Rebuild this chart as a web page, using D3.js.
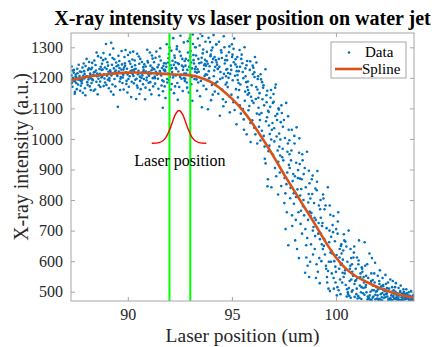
<!DOCTYPE html>
<html>
<head>
<meta charset="utf-8">
<script src="https://cdn.jsdelivr.net/npm/d3@7"></script>
<style>
  body { margin: 0; background: #fff; }
  svg { display: block; }
  text { font-family: "Liberation Serif", "Times New Roman", serif; }
</style>
</head>
<body>
<svg id="chart" width="442" height="347"></svg>
<script>
// --- data ---
const xTicks = [90, 95, 100];
const yTicks = [500, 600, 700, 800, 900, 1000, 1100, 1200, 1300];
const laserLines = [92, 93];

// fitted spline knots
const splineX = [87.27, 88, 89, 90, 91, 92, 93, 93.5, 94, 94.5, 95, 95.5, 96, 96.5, 97, 97.5, 98, 98.5, 99, 99.5, 100, 100.5, 101, 101.5, 102, 102.5, 103, 103.75];
const splineY = [1192, 1203, 1212, 1217, 1216, 1212, 1208, 1200, 1186, 1162, 1132, 1095, 1050, 998, 943, 885, 830, 775, 720, 663, 612, 574, 549, 531, 515, 502, 491, 480];

// beam profile sketch
const beamX = [91.15, 91.5, 91.7, 91.85, 92.0, 92.1, 92.2, 92.3, 92.4, 92.46, 92.52, 92.62, 92.72, 92.82, 92.92, 93.07, 93.22, 93.42, 93.77];
const beamY = [986, 988, 995, 1007, 1029, 1047, 1066, 1082, 1091, 1093, 1091, 1082, 1066, 1047, 1029, 1007, 995, 988, 986];

// measured points [position, intensity]
const points = [
[87.29,1208],[87.52,1183],[87.41,1226],[87.67,1199],[87.34,1171],[87.58,1215],[87.46,1154],[87.72,1192],[87.3,1237],[87.61,1178],[87.49,1204],[87.38,1196],[87.7,1221],[87.55,1163],[87.43,1189],[87.64,1243],[87.32,1185],[87.5,1211],[87.74,1174],[87.37,1200],[87.57,1230],[87.45,1148],[87.68,1206],[87.28,1181],[87.62,1194],[87.4,1217],[87.53,1201],[87.71,1158],[87.35,1224],[87.47,1190],
[87.81,1193],[88.13,1231],[87.94,1166],[88.2,1209],[87.77,1219],[88.05,1186],[87.88,1247],[88.17,1172],[87.99,1204],[88.24,1198],[87.84,1151],[88.09,1226],[87.92,1213],[88.02,1262],[87.79,1182],[88.15,1201],[87.97,1239],[88.22,1160],[87.86,1207],[88.07,1177],[87.9,1222],[88.11,1195],[87.82,1234],[88.19,1214],[87.96,1143],[88.04,1205],[87.76,1189],[88.14,1252],[87.91,1198],[88.23,1228],
[88.37,1218],[88.61,1176],[88.29,1249],[88.52,1205],[88.7,1236],[88.43,1162],[88.66,1213],[88.32,1192],[88.57,1271],[88.47,1224],[88.26,1183],[88.73,1201],[88.39,1257],[88.55,1146],[88.64,1229],[88.34,1210],[88.49,1187],[88.71,1266],[88.41,1219],[88.59,1197],[88.28,1233],[88.68,1170],[88.45,1242],[88.53,1214],[88.36,1158],[88.62,1208],[88.74,1226],[88.3,1195],[88.5,1283],[88.67,1188],
[88.79,1227],[89.12,1191],[88.93,1262],[89.21,1208],[88.84,1173],[89.05,1240],[88.95,1311],[89.17,1219],[88.88,1198],[89.02,1251],[89.2,1315],[88.77,1204],[89.09,1166],[88.98,1229],[89.24,1243],[88.86,1212],[89.14,1276],[88.91,1185],[89.07,1220],[88.81,1258],[89.19,1155],[89.0,1207],[88.9,1234],[89.11,1199],[88.83,1281],[89.23,1213],[88.97,1177],[89.15,1225],[88.76,1246],[89.04,1194],
[89.33,1231],[89.61,1188],[89.27,1265],[89.48,1209],[89.72,1244],[89.4,1172],[89.57,1221],[89.3,1296],[89.66,1203],[89.44,1250],[89.52,1105],[89.69,1227],[89.36,1196],[89.55,1272],[89.28,1214],[89.63,1160],[89.46,1238],[89.74,1183],[89.38,1219],[89.59,1255],[89.31,1145],[89.5,1206],[89.7,1288],[89.42,1224],[89.65,1197],[89.26,1178],[89.54,1241],[89.73,1215],[89.35,1261],[89.6,1232],
[89.78,1209],[90.12,1246],[89.93,1180],[90.21,1225],[89.84,1268],[90.03,1196],[89.89,1291],[90.16,1137],[89.96,1230],[90.24,1213],[89.8,1162],[90.07,1254],[89.91,1218],[90.19,1187],[89.87,1240],[90.01,1275],[89.76,1201],[90.14,1222],[89.98,1152],[90.22,1260],[89.82,1234],[90.09,1205],[89.94,1190],[90.18,1216],[89.86,1248],[90.05,1171],[89.79,1227],[90.11,1283],[89.99,1211],[90.2,1236],
[90.31,1227],[90.59,1190],[90.4,1131],[90.68,1252],[90.27,1206],[90.53,1270],[90.44,1175],[90.72,1219],[90.35,1241],[90.62,1163],[90.49,1212],[90.26,1286],[90.66,1200],[90.38,1230],[90.56,1147],[90.74,1235],[90.42,1197],[90.6,1262],[90.29,1182],[90.51,1223],[90.7,1208],[90.33,1257],[90.47,1168],[90.64,1215],[90.36,1194],[90.55,1246],[90.73,1179],[90.45,1279],[90.3,1220],[90.58,1204],
[90.79,1244],[91.08,1186],[90.88,1221],[91.19,1263],[90.83,1130],[91.02,1207],[90.93,1292],[91.14,1225],[90.77,1196],[91.22,1172],[90.97,1250],[91.11,1214],[90.86,1237],[91.05,1160],[91.24,1229],[90.91,1201],[91.16,1273],[90.81,1218],[91.0,1184],[90.95,1255],[91.2,1199],[90.85,1168],[91.09,1240],[90.99,1211],[91.13,1146],[90.76,1226],[91.06,1283],[90.9,1192],[91.18,1233],[91.03,1219],
[91.29,1204],[91.58,1257],[91.37,1286],[91.66,1192],[91.27,1228],[91.5,1143],[91.71,1239],[91.41,1210],[91.62,1175],[91.33,1266],[91.54,1222],[91.68,1102],[91.45,1197],[91.74,1248],[91.31,1181],[91.56,1297],[91.39,1216],[91.64,1232],[91.47,1164],[91.26,1251],[91.6,1208],[91.43,1235],[91.72,1188],[91.35,1220],[91.52,1270],[91.69,1156],[91.48,1243],[91.3,1199],[91.57,1214],[91.73,1226],
[91.78,1226],[92.09,1289],[91.9,1185],[92.18,1330],[91.83,1247],[92.02,1203],[92.22,1150],[91.95,1264],[92.13,1219],[91.77,1172],[92.06,1241],[91.87,1310],[92.2,1208],[91.98,1193],[92.15,1256],[91.81,1134],[92.04,1228],[92.24,1273],[91.92,1214],[92.11,1180],[91.85,1236],[92.0,1299],[92.17,1201],[91.94,1250],[92.07,1162],[91.79,1222],[92.21,1243],[91.89,1196],[92.12,1232],[91.97,1278],
[92.29,1251],[92.58,1197],[92.36,1303],[92.67,1236],[92.27,1172],[92.49,1286],[92.71,1214],[92.4,1128],[92.62,1262],[92.33,1229],[92.53,1338],[92.74,1190],[92.45,1245],[92.64,1157],[92.31,1208],[92.55,1272],[92.43,1221],[92.69,1316],[92.38,1183],[92.6,1240],[92.26,1266],[92.51,1203],[92.73,1255],[92.47,1170],[92.65,1226],[92.35,1294],[92.57,1211],[92.41,1248],[92.7,1199],[92.3,1233],
[92.79,1262],[93.07,1203],[92.88,1320],[93.18,1247],[92.83,1185],[93.02,1288],[93.22,1229],[92.93,1152],[93.12,1342],[92.77,1240],[92.98,1213],[93.15,1275],[92.86,1226],[93.05,1179],[93.24,1300],[92.91,1257],[93.1,1125],[92.8,1214],[93.0,1270],[93.2,1196],[92.95,1236],[93.13,1311],[92.85,1168],[93.04,1250],[93.23,1220],[92.89,1283],[93.08,1231],[92.76,1197],[93.16,1258],[92.97,1329],
[93.28,1273],[93.56,1104],[93.37,1329],[93.67,1241],[93.3,1195],[93.49,1345],[93.71,1259],[93.41,1220],[93.62,1293],[93.33,1158],[93.53,1250],[93.74,1212],[93.45,1306],[93.64,1174],[93.27,1236],[93.58,1337],[93.39,1262],[93.69,1206],[93.47,1140],[93.6,1280],[93.35,1228],[93.51,1190],[93.73,1318],[93.43,1248],[93.66,1229],[93.26,1300],[93.55,1266],[93.38,1185],[93.7,1245],[93.32,1217],
[93.79,1254],[94.08,1145],[93.88,1331],[94.17,1268],[93.81,1210],[94.02,1290],[94.22,1183],[93.93,1238],[94.12,1340],[93.77,1163],[93.98,1276],[94.15,1224],[93.85,1097],[94.05,1251],[94.24,1309],[93.91,1199],[94.1,1262],[93.8,1285],[94.0,1127],[94.2,1236],[93.95,1317],[94.13,1205],[93.84,1246],[94.04,1177],[94.23,1258],[93.89,1222],[94.07,1299],[93.76,1240],[94.18,1155],[93.97,1271],
[94.29,1243],[94.57,1130],[94.38,1318],[94.68,1258],[94.3,1187],[94.5,1283],[94.72,1205],[94.42,1076],[94.61,1336],[94.33,1229],[94.53,1162],[94.74,1272],[94.45,1219],[94.64,1300],[94.27,1250],[94.59,1107],[94.4,1236],[94.7,1178],[94.48,1290],[94.62,1213],[94.35,1148],[94.52,1265],[94.73,1227],[94.44,1196],[94.66,1247],[94.26,1310],[94.55,1200],[94.37,1262],[94.71,1121],[94.32,1230],
[94.78,1229],[95.07,1120],[94.88,1303],[95.17,1244],[94.8,1170],[95.01,1268],[95.22,1048],[94.92,1213],[95.11,1329],[94.77,1258],[94.98,1145],[95.15,1207],[94.86,1284],[95.04,1192],[95.24,1236],[94.9,1087],[95.09,1251],[94.82,1216],[95.0,1310],[95.2,1163],[94.95,1240],[95.13,1095],[94.84,1200],[95.03,1276],[95.23,1222],[94.89,1138],[95.08,1295],[94.76,1185],[95.18,1261],[94.97,1226],
[95.28,1193],[95.57,1064],[95.37,1291],[95.66,1205],[95.29,1136],[95.5,1248],[95.71,1015],[95.41,1178],[95.61,1300],[95.33,1222],[95.53,1098],[95.74,1170],[95.45,1262],[95.64,1155],[95.27,1209],[95.58,1030],[95.39,1236],[95.69,1186],[95.47,1276],[95.62,1125],[95.35,1160],[95.52,1219],[95.73,1255],[95.43,1083],[95.65,1231],[95.26,1268],[95.55,1199],[95.38,1110],[95.7,1241],[95.32,1183],
[95.78,1160],[96.07,1037],[95.88,1254],[96.17,1170],[95.8,1094],[96.01,1212],[96.22,985],[95.92,1138],[96.11,1268],[95.77,1188],[95.98,1061],[96.15,1131],[95.86,1226],[96.04,1118],[96.24,1196],[95.9,990],[96.09,1203],[95.82,1150],[96.0,1240],[96.2,1083],[95.95,1176],[96.13,1015],[95.84,1108],[96.03,1233],[96.23,1162],[95.89,1052],[96.08,1218],[95.76,1145],[96.18,1250],[95.97,1125],
[96.28,1102],[96.57,975],[96.38,1212],[96.67,1120],[96.3,1040],[96.5,1168],[96.71,845],[96.42,1085],[96.61,1228],[96.27,1135],[96.53,1010],[96.74,1092],[96.45,1186],[96.64,1058],[96.33,1150],[96.58,935],[96.4,1195],[96.69,1071],[96.47,1130],[96.62,920],[96.35,1062],[96.52,1176],[96.73,868],[96.44,1027],[96.66,1143],[96.26,1205],[96.55,1110],[96.37,995],[96.7,1158],[96.32,1080],
[96.78,1044],[97.07,905],[96.88,1160],[97.17,1062],[96.8,978],[97.01,1122],[97.22,818],[96.92,1030],[97.11,1178],[96.77,1088],[96.98,948],[97.15,1008],[96.86,1135],[97.04,992],[97.24,1100],[96.9,842],[97.09,1075],[96.82,1016],[97.0,1147],[97.2,962],[96.95,1052],[97.13,878],[96.84,1105],[97.03,1035],[97.23,925],[96.89,998],[97.08,1168],[96.76,960],[97.18,1082],[96.97,1118],
[97.28,975],[97.57,822],[97.38,1110],[97.67,958],[97.3,890],[97.5,1062],[97.71,652],[97.42,940],[97.61,1118],[97.27,1018],[97.53,872],[97.74,915],[97.45,1040],[97.64,760],[97.33,998],[97.58,705],[97.4,1085],[97.69,985],[97.47,930],[97.62,852],[97.35,1055],[97.52,790],[97.73,1030],[97.44,968],[97.66,890],[97.26,1096],[97.55,1003],[97.37,846],[97.7,1074],[97.32,946],
[97.78,905],[98.07,735],[97.88,1030],[98.17,872],[97.8,806],[98.01,985],[98.22,610],[97.92,862],[98.11,1038],[97.77,950],[97.98,788],[98.15,835],[97.86,962],[98.04,668],[98.24,1002],[97.9,715],[98.09,922],[97.82,840],[98.0,1010],[98.2,760],[97.95,885],[98.13,640],[97.84,930],[98.03,878],[98.23,955],[97.89,750],[98.08,810],[97.76,996],[98.18,898],[97.97,822],
[98.28,815],[98.57,652],[98.38,950],[98.67,792],[98.3,722],[98.5,905],[98.71,548],[98.42,780],[98.61,958],[98.27,870],[98.53,705],[98.74,762],[98.45,885],[98.64,585],[98.33,836],[98.58,612],[98.4,930],[98.69,820],[98.47,750],[98.62,676],[98.35,868],[98.52,562],[98.73,855],[98.44,800],[98.66,735],[98.26,918],[98.55,842],[98.37,690],[98.7,896],[98.32,765],
[98.78,748],[99.07,590],[98.88,880],[99.17,725],[98.8,655],[99.01,838],[99.22,528],[98.92,712],[99.11,895],[98.77,805],[98.98,640],[99.15,690],[98.86,820],[99.04,545],[99.24,770],[98.9,622],[99.09,860],[98.82,758],[99.0,682],[99.2,610],[98.95,790],[99.13,565],[98.84,868],[99.03,735],[99.23,672],[98.89,700],[99.08,832],[98.76,598],[99.18,782],[98.97,742],
[99.28,690],[99.57,548],[99.38,818],[99.67,662],[99.3,600],[99.5,782],[99.71,502],[99.42,650],[99.61,842],[99.27,742],[99.53,575],[99.74,628],[99.45,770],[99.64,510],[99.33,715],[99.58,530],[99.4,805],[99.69,700],[99.47,622],[99.62,568],[99.35,725],[99.52,585],[99.73,752],[99.44,672],[99.66,598],[99.26,800],[99.55,708],[99.37,640],[99.7,782],[99.32,655],
[99.78,635],[100.07,515],[99.88,748],[100.17,612],[99.8,560],[100.01,705],[100.22,492],[99.92,600],[100.11,760],[99.77,680],[99.98,530],[100.15,575],[99.86,695],[100.04,488],[100.24,650],[99.9,510],[100.09,730],[99.82,625],[100.0,565],[100.2,540],[99.95,665],[100.13,505],[99.84,718],[100.03,620],[100.23,588],[99.89,545],[100.08,690],[99.76,598],[100.18,640],[99.97,582],
[100.28,592],[100.57,498],[100.38,688],[100.67,575],[100.3,530],[100.5,648],[100.71,480],[100.42,560],[100.61,700],[100.27,625],[100.53,508],[100.74,540],[100.45,664],[100.64,486],[100.33,605],[100.58,492],[100.4,668],[100.69,585],[100.47,522],[100.62,512],[100.35,635],[100.52,484],[100.73,610],[100.44,570],[100.66,535],[100.26,655],[100.55,598],[100.37,548],[100.7,640],[100.32,562],
[100.78,565],[101.07,486],[100.88,648],[101.17,548],[100.8,505],[101.01,612],[101.22,476],[100.92,535],[101.11,668],[100.77,590],[100.98,492],[101.15,520],[100.86,628],[101.04,478],[101.24,580],[100.9,483],[101.09,602],[100.82,552],[101.0,510],[101.2,498],[100.95,575],[101.13,480],[100.84,612],[101.03,545],[101.23,515],[100.89,525],[101.08,590],[100.76,500],[101.18,560],[100.97,538],
[101.28,540],[101.57,480],[101.38,662],[101.67,528],[101.3,495],[101.5,590],[101.71,473],[101.42,515],[101.61,625],[101.27,565],[101.53,484],[101.74,505],[101.45,552],[101.64,474],[101.33,548],[101.58,478],[101.4,585],[101.69,535],[101.47,498],[101.62,488],[101.35,530],[101.52,475],[101.73,610],[101.44,522],[101.66,500],[101.26,575],[101.55,545],[101.37,490],[101.7,560],[101.32,512],
[101.78,520],[102.07,476],[101.88,595],[102.17,510],[101.8,484],[102.01,552],[102.22,472],[101.92,500],[102.11,570],[101.77,538],[101.98,478],[102.15,492],[101.86,530],[102.04,473],[102.24,545],[101.9,475],[102.09,525],[101.82,505],[102.0,488],[102.2,482],[101.95,515],[102.13,474],[101.84,560],[102.03,508],[102.23,496],[101.89,490],[102.08,535],[101.76,480],[102.18,518],[101.97,502],
[102.28,505],[102.57,474],[102.38,555],[102.67,498],[102.3,480],[102.5,530],[102.71,472],[102.42,492],[102.61,540],[102.27,518],[102.53,476],[102.74,486],[102.45,512],[102.64,473],[102.33,508],[102.58,477],[102.4,525],[102.69,500],[102.47,484],[102.62,479],[102.35,502],[102.52,473],[102.73,535],[102.44,495],[102.66,488],[102.26,522],[102.55,510],[102.37,482],[102.7,515],[102.32,490],
[102.78,496],[103.07,473],[102.88,528],[103.17,490],[102.8,477],[103.01,512],[103.22,472],[102.92,486],[103.11,520],[102.77,505],[102.98,474],[103.15,482],[102.86,500],[103.04,472],[103.24,508],[102.9,475],[103.09,502],[102.82,492],[103.0,480],[103.2,476],[102.95,495],[103.13,473],[102.84,515],[103.03,488],[103.23,484],[102.89,479],[103.08,498],[102.76,483],[103.18,494],[102.97,490],
[103.28,488],[103.57,473],[103.38,508],[103.67,484],[103.3,475],[103.5,498],[103.71,472],[103.42,480],[103.61,502],[103.27,494],[103.53,473],[103.74,478],[103.45,490],[103.64,472],[103.33,492],[103.58,474],[103.4,496],[103.69,486],[103.47,477],[103.62,476],[103.35,485],[103.52,472],[103.73,490],[103.44,482],[103.66,479],[103.26,500],[103.55,487],[103.37,476],[103.7,483],[103.32,481]
];

// --- layout ---
const width = 442, height = 347;
const margin = {top: 33, right: 28, bottom: 46, left: 71};
const innerW = width - margin.left - margin.right;
const innerH = height - margin.top - margin.bottom;

const serif = "'Liberation Serif', 'Times New Roman', serif";
const dotColor = "#0072BD";
const splineColor = "#D95319";
const axisColor = "#a6a6a6";
const textColor = "#262626";

const svg = d3.select("#chart");

const x = d3.scaleLinear().domain([87.27, 103.75]).range([0, innerW]);
const y = d3.scaleLinear().domain([469.6, 1346.8]).range([innerH, 0]);

const g = svg.append("g").attr("transform", "translate(" + margin.left + "," + margin.top + ")");

svg.append("defs").append("clipPath").attr("id", "plotClip")
    .append("rect").attr("width", innerW).attr("height", innerH);

// axes, ticks pointing inward like matlab
const xAxis = g.append("g").attr("transform", "translate(0," + innerH + ")")
    .call(d3.axisBottom(x).tickValues(xTicks).tickSizeInner(-4).tickSizeOuter(0).tickPadding(8).tickFormat(d3.format("d")));
const xTop = g.append("g")
    .call(d3.axisTop(x).tickValues(xTicks).tickSizeInner(-4).tickSizeOuter(0).tickFormat(""));
const yAxis = g.append("g")
    .call(d3.axisLeft(y).tickValues(yTicks).tickSizeInner(-4).tickSizeOuter(0).tickPadding(8).tickFormat(d3.format("d")));
const yRight = g.append("g").attr("transform", "translate(" + innerW + ",0)")
    .call(d3.axisRight(y).tickValues(yTicks).tickSizeInner(-4).tickSizeOuter(0).tickFormat(""));

[xAxis, xTop, yAxis, yRight].forEach(a => {
    a.attr("font-family", serif).attr("font-size", 16);
    a.select(".domain").remove();
    a.selectAll(".tick line").attr("stroke", axisColor);
    a.selectAll(".tick text").attr("fill", textColor);
});

const plot = g.append("g").attr("clip-path", "url(#plotClip)");

// scatter
plot.selectAll("circle.pt")
    .data(points)
    .enter().append("circle")
    .attr("class", "pt")
    .attr("cx", d => x(d[0]))
    .attr("cy", d => y(d[1]))
    .attr("r", 1.3)
    .attr("fill", dotColor);

// laser position markers
plot.selectAll("line.laser")
    .data(laserLines)
    .enter().append("line")
    .attr("class", "laser")
    .attr("x1", d => x(d)).attr("x2", d => x(d))
    .attr("y1", 0).attr("y2", innerH)
    .attr("stroke", "#00ff00")
    .attr("stroke-width", 2);

// beam profile
const beam = beamX.map((v, i) => [v, beamY[i]]);
plot.append("path")
    .datum(beam)
    .attr("fill", "none")
    .attr("stroke", "#ff0000")
    .attr("stroke-width", 1.4)
    .attr("d", d3.line().x(d => x(d[0])).y(d => y(d[1])).curve(d3.curveCatmullRom));

// spline fit
const spline = splineX.map((v, i) => [v, splineY[i]]);
plot.append("path")
    .datum(spline)
    .attr("fill", "none")
    .attr("stroke", splineColor)
    .attr("stroke-width", 2.6)
    .attr("d", d3.line().x(d => x(d[0])).y(d => y(d[1])).curve(d3.curveNatural));

// box
g.append("rect")
    .attr("width", innerW).attr("height", innerH)
    .attr("fill", "none")
    .attr("stroke", axisColor)
    .attr("stroke-width", 1);

// annotation
g.append("text")
    .attr("x", x(92.5))
    .attr("y", y(1046))
    .attr("dy", "2.6em")
    .attr("text-anchor", "middle")
    .attr("font-family", serif)
    .attr("font-size", 16)
    .attr("fill", "#000")
    .text("Laser position");

// legend
const legend = g.append("g").attr("transform", "translate(" + (innerW - 83) + ",9)")
    .attr("font-family", serif).attr("font-size", 15);
legend.append("rect")
    .attr("width", 75).attr("height", 36)
    .attr("fill", "#fff")
    .attr("stroke", axisColor);
legend.append("circle").attr("cx", 18).attr("cy", 10.5).attr("r", 1.3).attr("fill", dotColor);
legend.append("line").attr("x1", 4).attr("x2", 31).attr("y1", 27).attr("y2", 27)
    .attr("stroke", splineColor).attr("stroke-width", 2.6);
legend.append("text").attr("x", 34).attr("y", 15).attr("fill", "#000").text("Data");
legend.append("text").attr("x", 31).attr("y", 31.5).attr("fill", "#000").text("Spline");

// titles
svg.append("text")
    .attr("x", margin.left + innerW / 2)
    .attr("y", 25)
    .attr("text-anchor", "middle")
    .attr("font-family", serif)
    .attr("font-size", 20)
    .attr("font-weight", "bold")
    .attr("fill", "#000")
    .text("X-ray intensity vs laser position on water jet");

svg.append("text")
    .attr("x", margin.left + innerW / 2)
    .attr("y", 342)
    .attr("text-anchor", "middle")
    .attr("font-family", serif)
    .attr("font-size", 19.5)
    .attr("fill", textColor)
    .text("Laser position (um)");

svg.append("text")
    .attr("transform", "translate(28," + (margin.top + innerH / 2 - 10) + ") rotate(-90)")
    .attr("text-anchor", "middle")
    .attr("font-family", serif)
    .attr("font-size", 20)
    .attr("fill", textColor)
    .text("X-ray intensity (a.u.)");
</script>
</body>
</html>
